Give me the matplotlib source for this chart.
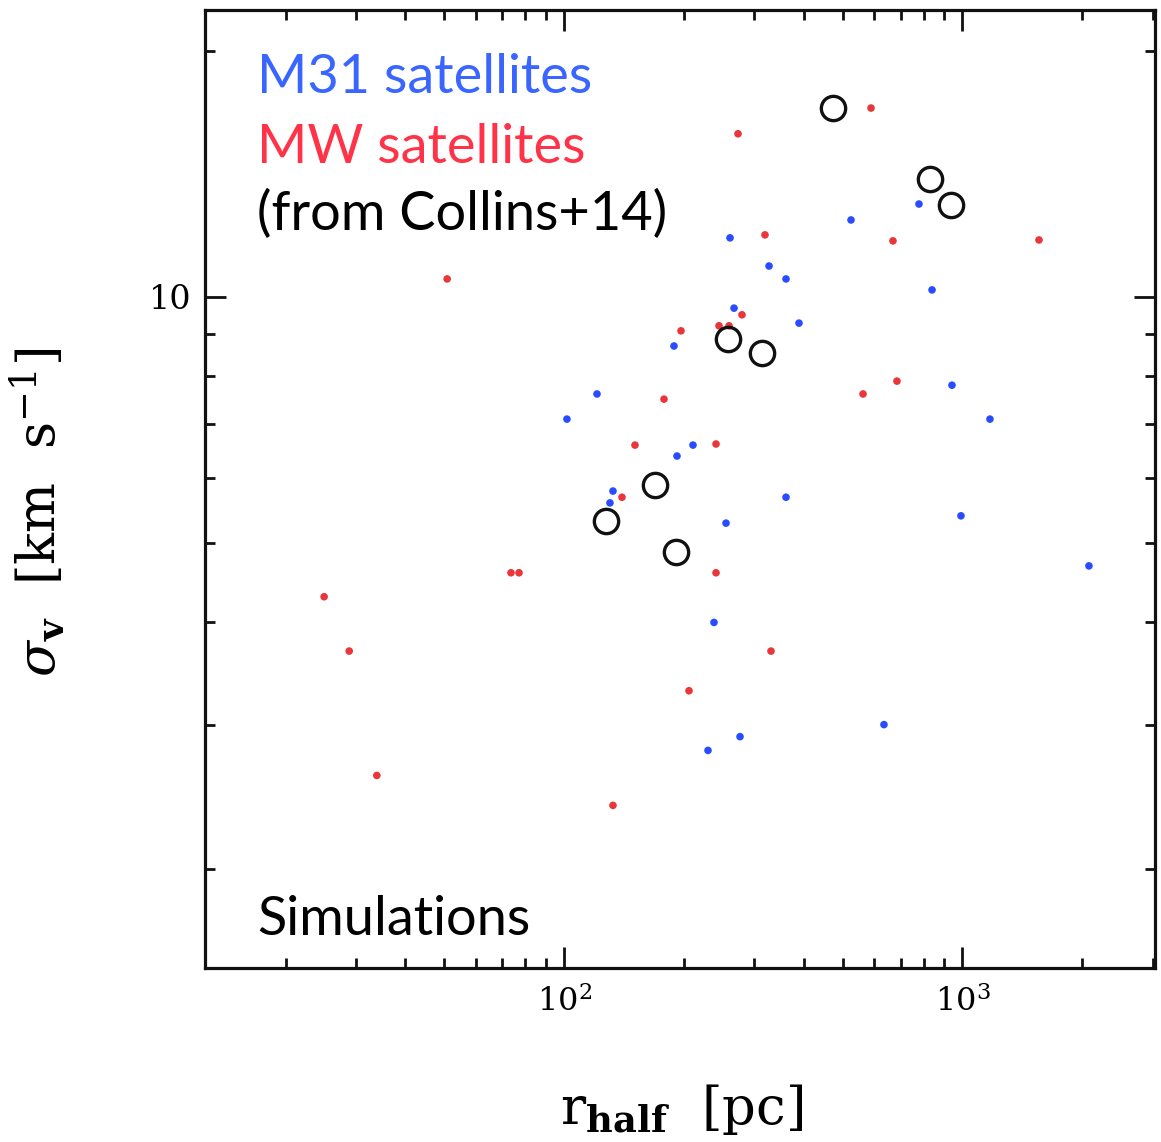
import matplotlib
matplotlib.use("Agg")
import matplotlib.pyplot as plt
from matplotlib.ticker import FixedLocator, NullFormatter, FixedFormatter

# Half-light radius [pc] and velocity dispersion [km/s]
mw_rhalf = [50.9, 273.3, 589.5, 319.4, 669.2, 1556, 196.6, 244.9, 259.5, 279.7,
            178.2, 150.7, 240.7, 562.9, 684.8, 139.8, 73.6, 77.1, 240.7, 25.0,
            28.9, 205.9, 330.7, 33.9, 132.7]
mw_sigma = [10.52, 15.83, 17.02, 11.91, 11.71, 11.74, 9.09, 9.22, 9.22, 9.51,
            7.50, 6.59, 6.61, 7.61, 7.89, 5.69, 4.60, 4.60, 4.60, 4.30,
            3.69, 3.30, 3.69, 2.60, 2.39]

m31_rhalf = [261.0, 525.1, 777.7, 327.0, 360.7, 267.1, 388.8, 838.7, 941.1, 1172,
             188.8, 121.0, 101.7, 210.7, 192.1, 132.7, 130.4, 237.9, 229.8, 360.7,
             255.0, 991.3, 635.3, 276.5, 2077]
m31_sigma = [11.81, 12.42, 12.99, 10.91, 10.52, 9.69, 9.29, 10.20, 7.80, 7.09,
             8.71, 7.61, 7.09, 6.59, 6.39, 5.79, 5.60, 4.00, 2.79, 5.69,
             5.29, 5.40, 3.00, 2.90, 4.69]

sim_rhalf = [473.2, 828.9, 935.5, 257.9, 313.9, 169.2, 127.5, 191.0]
sim_sigma = [17.02, 13.94, 12.96, 8.89, 8.54, 5.89, 5.32, 4.88]

x_major = [100, 1000]
x_major_labels = [r"$10^{2}$", r"$10^{3}$"]
y_major = [10]
y_major_labels = ["10"]

plt.rcParams["mathtext.fontset"] = "dejavuserif"

fig = plt.figure(figsize=(11.61, 11.42), dpi=100)
ax = fig.add_axes([205 / 1161, 174 / 1142, 950 / 1161, 958 / 1142])
ax.set_xscale("log")
ax.set_yscale("log")
ax.set_xlim(12.56, 3042)
ax.set_ylim(1.512, 22.43)

ax.scatter(mw_rhalf, mw_sigma, s=30, color="#e8363a", edgecolors="none", zorder=3)
ax.scatter(m31_rhalf, m31_sigma, s=30, color="#2a4cff", edgecolors="none", zorder=3)
ax.plot(sim_rhalf, sim_sigma, ls="none", marker="o", ms=17.5, mfc="none",
        mec="#111111", mew=2.4, zorder=4)

# ticks on all four sides, pointing inward
ax.xaxis.set_major_locator(FixedLocator(x_major))
ax.xaxis.set_major_formatter(FixedFormatter(x_major_labels))
ax.xaxis.set_minor_locator(FixedLocator([20, 30, 40, 50, 60, 70, 80, 90,
                                         200, 300, 400, 500, 600, 700, 800, 900,
                                         2000, 3000]))
ax.xaxis.set_minor_formatter(NullFormatter())
ax.yaxis.set_major_locator(FixedLocator(y_major))
ax.yaxis.set_major_formatter(FixedFormatter(y_major_labels))
ax.yaxis.set_minor_locator(FixedLocator([2, 3, 4, 5, 6, 7, 8, 9, 20]))
ax.yaxis.set_minor_formatter(NullFormatter())

ax.tick_params(which="both", direction="in", top=True, right=True, width=2.0,
               color="#111111")
ax.tick_params(which="major", length=15)
ax.tick_params(which="minor", length=7.5)
ax.tick_params(axis="x", which="major", labelsize=23, pad=13)
ax.tick_params(axis="y", which="major", labelsize=24, pad=10)
for lab in ax.get_xticklabels() + ax.get_yticklabels():
    lab.set_fontfamily("DejaVu Serif")
for sp in ax.spines.values():
    sp.set_linewidth(2.3)
    sp.set_color("#111111")

ax.set_xlabel(r"r$_{\mathbf{half}}$  [pc]", fontsize=38, family="DejaVu Serif")
ax.set_ylabel(r"$\sigma_{\mathbf{v}}$  [km  s$^{-1}$]", fontsize=38,
              family="DejaVu Serif")
ax.xaxis.set_label_coords(0.502, -0.119)
ax.yaxis.set_label_coords(-0.145, 0.476)

fs = 39
fig.text(257 / 1161, 1 - 93 / 1142, "M31 satellites", color="#3a66ff",
         fontsize=fs, family="Lato", va="baseline")
fig.text(257 / 1161, 1 - 163 / 1142, "MW satellites", color="#ff3347",
         fontsize=fs, family="Lato", va="baseline")
fig.text(257 / 1161, 1 - 230 / 1142, "(from Collins+14)", color="black",
         fontsize=fs, family="Lato", va="baseline")
fig.text(257 / 1161, 1 - 935 / 1142, "Simulations", color="black",
         fontsize=fs, family="Lato", va="baseline")

fig.savefig("out.png", dpi=100)
